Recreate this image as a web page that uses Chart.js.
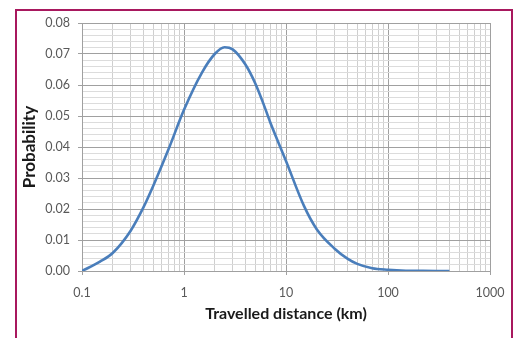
<!DOCTYPE html>
<html>
<head>
<meta charset="utf-8">
<script src="https://cdn.jsdelivr.net/npm/chart.js@4"></script>
<style>
  html, body { margin: 0; padding: 0; background: #fff; }
  #wrap { position: relative; width: 515px; height: 338px; }
  #frame {
    position: absolute; left: 15px; top: 9px; width: 494px; height: 340px;
    border: 2px solid #a8185e; border-bottom: none;
  }
  canvas { position: absolute; left: 0; top: 0; }
</style>
</head>
<body>
<div id="wrap">
  <div id="frame"></div>
  <canvas id="distChart" width="515" height="338"></canvas>
</div>
<script>
// distance (km)
const distances = [0.1, 0.15, 0.2, 0.3, 0.4, 0.5, 0.7, 1, 1.5, 2, 2.5, 3, 4, 5, 6, 7, 10,
                   15, 20, 30, 40, 50, 70, 100, 150, 200, 300, 400];
const probability = [0, 0.003, 0.0058, 0.013, 0.0205, 0.0275, 0.039, 0.052, 0.064, 0.07,
                     0.0722, 0.0715, 0.0666, 0.0605, 0.054, 0.048, 0.0355, 0.021, 0.0135, 0.0072,
                     0.004, 0.0023, 0.0009, 0.0004, 0.0001, 0.00005, 0, 0];

const decades = [0.1, 1, 10, 100];
const mantissas = [1, 2, 3, 4, 5, 6, 7, 8, 9];
const xMax = 1000;

const isDecade = v => Math.abs(Math.log10(v) - Math.round(Math.log10(v))) < 1e-6;
const isMajorY = v => Math.round(v * 1000) % 10 === 0;

document.addEventListener("DOMContentLoaded", () => {
    const ctx = document.getElementById("distChart");

    new Chart(ctx, {
        type: "line",
        data: {
            datasets: [{
                data: distances.map((d, i) => ({ x: d, y: probability[i] })),
                borderColor: "#4a7ebb",
                borderWidth: 2.6,
                pointRadius: 0,
                cubicInterpolationMode: "monotone",
                fill: false
            }]
        },
        options: {
            responsive: false,
            animation: false,
            layout: {
                padding: { left: 14, right: 25, top: 23, bottom: 0 }
            },
            scales: {
                x: {
                    type: "logarithmic",
                    min: 0.1,
                    max: xMax,
                    afterBuildTicks: scale => {
                        const ticks = [];
                        decades.forEach(d => mantissas.forEach(m => ticks.push({ value: +(d * m).toPrecision(3) })));
                        ticks.push({ value: xMax });
                        scale.ticks = ticks;
                    },
                    afterFit: scale => { scale.height = 67; },
                    ticks: {
                        autoSkip: false,
                        maxRotation: 0,
                        color: "#595959",
                        font: { family: "Lato", size: 12.5 },
                        padding: 10,
                        callback: v => isDecade(v) ? String(v) : ""
                    },
                    grid: {
                        color: c => isDecade(c.tick.value) ? "#a0a0a0" : "#cfcfcf",
                        tickColor: c => isDecade(c.tick.value) ? "#a0a0a0" : "rgba(0,0,0,0)",
                        tickLength: 4
                    },
                    border: { color: "#a0a0a0" },
                    title: {
                        display: true,
                        text: "Travelled distance (km)",
                        color: "#1a1a1a",
                        font: { family: "Lato", size: 16, weight: "bold" },
                        padding: { top: 2, bottom: 15 }
                    }
                },
                y: {
                    min: 0,
                    max: 0.08,
                    afterFit: scale => { scale.width = 68; },
                    ticks: {
                        stepSize: 0.002,
                        autoSkip: false,
                        color: "#595959",
                        font: { family: "Lato", size: 12.5 },
                        padding: 8,
                        callback: v => isMajorY(v) ? v.toFixed(2) : ""
                    },
                    grid: {
                        color: c => isMajorY(c.tick.value) ? "#a0a0a0" : "#dcdcdc",
                        tickColor: c => isMajorY(c.tick.value) ? "#a0a0a0" : "rgba(0,0,0,0)",
                        tickLength: 4
                    },
                    border: { color: "#a0a0a0" },
                    title: {
                        display: true,
                        text: "Probability",
                        color: "#1a1a1a",
                        font: { family: "Lato", size: 17, weight: "bold" },
                        padding: { top: 5, bottom: 0 }
                    }
                }
            },
            plugins: {
                legend: { display: false },
                tooltip: { enabled: false }
            }
        }
    });
});
</script>
</body>
</html>
